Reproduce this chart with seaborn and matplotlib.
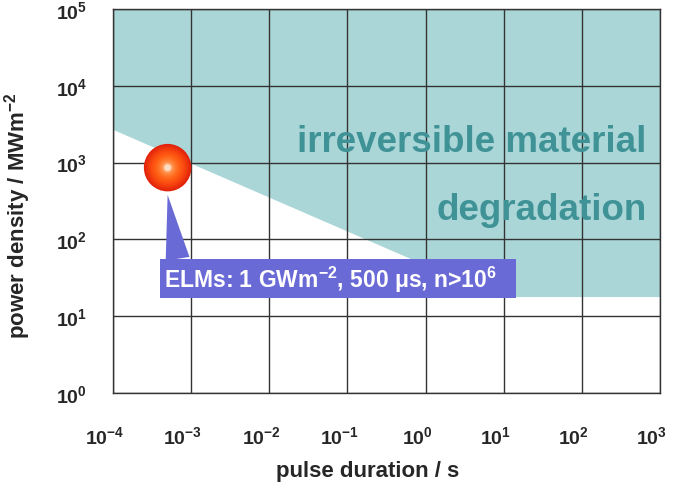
import numpy as np
import matplotlib
matplotlib.use('Agg')
import matplotlib.pyplot as plt
import matplotlib.transforms as mtransforms
import seaborn as sns

# axis decades
duration_ticks = 10.0 ** np.arange(-4, 4)
power_ticks = 10.0 ** np.arange(0, 6)
duration_labels = [r'$\mathbf{10^{%d}}$' % e for e in range(-4, 4)]
power_labels = [r'$\mathbf{10^{%d}}$' % e for e in range(0, 6)]

# lower boundary of the degradation region
threshold_duration = [1e-4, 8.5, 1e3]
threshold_power = [2.7e3, 18, 18]

# ELM point
elm_duration = [5e-4]
elm_power = [860]

sns.set_style('white')
plt.rcParams['font.family'] = ['Liberation Sans', 'DejaVu Sans']
plt.rcParams['font.weight'] = 'bold'
plt.rcParams['mathtext.fontset'] = 'custom'
plt.rcParams['mathtext.bf'] = 'Liberation Sans:bold'
plt.rcParams['mathtext.rm'] = 'Liberation Sans:bold'

fig = plt.figure(figsize=(6.73, 4.89), dpi=100)
ax = fig.add_axes([113 / 673, 1 - 394 / 489, 547 / 673, 384 / 489])
ax.set_xscale('log')
ax.set_yscale('log')
ax.set_xlim(1e-4, 1e3)
ax.set_ylim(1e0, 1e5)

shade = '#abd6d8'
ax.fill_between(threshold_duration, threshold_power, 1e5, color=shade, lw=0, zorder=1)

ax.set_xticks(duration_ticks)
ax.set_xticklabels(duration_labels)
ax.set_yticks(power_ticks)
ax.set_yticklabels(power_labels)
ax.minorticks_off()
ax.tick_params(axis='x', length=9, width=1, color='#333333', pad=14, labelsize=14)
ax.tick_params(axis='y', length=6.5, width=1, color='#333333', pad=12, labelsize=14)
# nudge x labels a bit left like the original
shift = mtransforms.ScaledTranslation(-6 / 72, 0, fig.dpi_scale_trans)
for lab in ax.get_xticklabels():
    lab.set_transform(lab.get_transform() + shift)
ax.grid(True, color='#333333', lw=1, zorder=2)
ax.set_axisbelow(False)
for s in ax.spines.values():
    s.set_color('#333333')
    s.set_linewidth(1)

ax.set_xlabel('pulse duration / s', fontsize=16, fontweight='bold')
ax.xaxis.set_label_coords(0.466, -0.175)
ax.set_ylabel(r'power density / MWm$^{\mathbf{-2}}$', fontsize=16, fontweight='bold')
ax.yaxis.set_label_coords(-0.146, 0.464)

teal = '#3f9296'
ax.text(0.976, 0.630, 'irreversible material', transform=ax.transAxes, ha='right',
        va='baseline', fontsize=26.5, color=teal, fontweight='bold', zorder=3)
ax.text(0.976, 0.453, 'degradation', transform=ax.transAxes, ha='right',
        va='baseline', fontsize=26.5, color=teal, fontweight='bold', zorder=3)

# callout box with wedge pointer
box_color = '#6a6ad6'
ax.annotate(r'ELMs: 1 GWm$^{\mathbf{-2}}$, 500 μs, n>10$^{\mathbf{6}}$   ',
            xy=(5e-4, 380), xytext=(4.55e-4, 31), textcoords='data',
            ha='left', va='center', fontsize=16.5, color='white', fontweight='bold',
            bbox=dict(boxstyle='square,pad=0.2', fc=box_color, ec='none'),
            arrowprops=dict(arrowstyle='wedge,tail_width=1.05,shrink_factor=0.5',
                            fc=box_color, ec='none', relpos=(0.04, 1.0),
                            shrinkA=0, shrinkB=0),
            zorder=4)

# shaded sphere from concentric markers
n = 14
cmap = matplotlib.colors.LinearSegmentedColormap.from_list(
    'ball', ['#e2240c', '#f8460e', '#ff6216', '#ff8a40', '#ffdcc4'])
for i in range(n):
    frac = i / (n - 1)
    size = 1150 * (1 - frac) ** 2 + 20
    sns.scatterplot(x=elm_duration, y=elm_power, s=size, color=cmap(frac),
                    edgecolor='none', linewidth=0, ax=ax, zorder=5 + i, legend=False)

fig.savefig('out.png', dpi=100)
